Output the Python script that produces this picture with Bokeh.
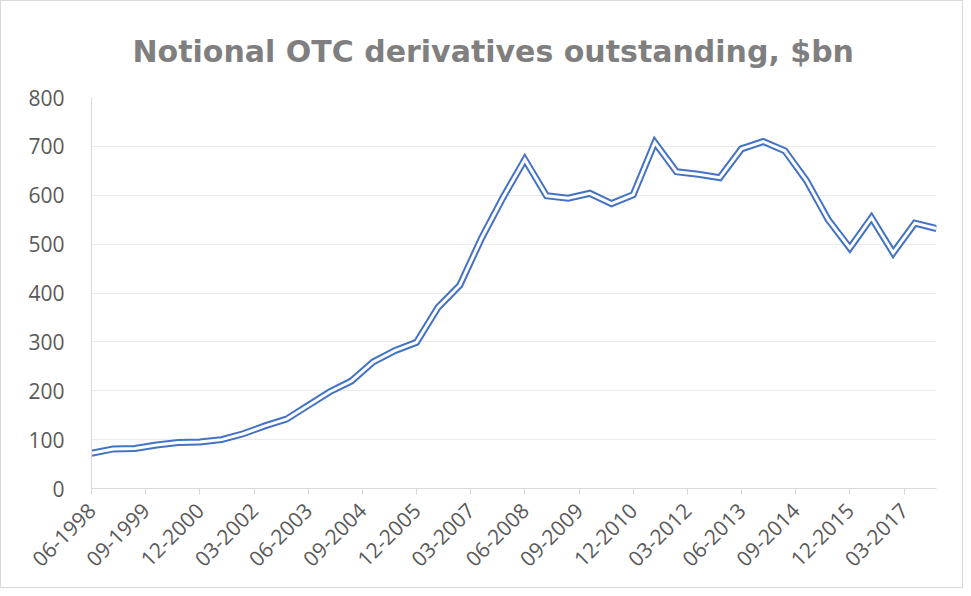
import math
from bokeh.plotting import figure
from bokeh.models import Range1d, FixedTicker
from bokeh.embed import file_html
from bokeh.resources import INLINE

# Semi-annual observations (mm-yyyy)
dates = [
    "06-1998", "12-1998", "06-1999", "12-1999", "06-2000", "12-2000", "06-2001", "12-2001",
    "06-2002", "12-2002", "06-2003", "12-2003", "06-2004", "12-2004", "06-2005", "12-2005",
    "06-2006", "12-2006", "06-2007", "12-2007", "06-2008", "12-2008", "06-2009", "12-2009",
    "06-2010", "12-2010", "06-2011", "12-2011", "06-2012", "12-2012", "06-2013", "12-2013",
    "06-2014", "12-2014", "06-2015", "12-2015", "06-2016", "12-2016", "06-2017", "12-2017",
]
values = [
    72, 81, 82, 89, 94, 95, 100, 112,
    128, 142, 170, 198, 220, 259, 282, 299,
    371, 416, 512, 596, 673, 599, 594, 604,
    583, 601, 708, 648, 643, 636, 695, 710,
    691, 630, 550, 492, 554, 482, 543, 532,
]
tick_labels = [
    "06-1998", "09-1999", "12-2000", "03-2002", "06-2003", "09-2004", "12-2005", "03-2007",
    "06-2008", "09-2009", "12-2010", "03-2012", "06-2013", "09-2014", "12-2015", "03-2017",
]
title_text = "Notional OTC derivatives outstanding, $bn"


def month_index(s):
    m, y = s.split("-")
    return (int(y) - 1998) * 12 + int(m) - 6


xs = [month_index(d) for d in dates]
ticks = [month_index(t) for t in tick_labels]

FONT = "Open Sans"
LABEL_COLOR = "#595959"
AXIS_COLOR = "#d9d9d9"

p = figure(
    width=963, height=588,
    output_backend="svg", toolbar_location=None,
    x_range=Range1d(0, xs[-1]), y_range=Range1d(0, 800),
    min_border_left=90, min_border_right=28, min_border_top=96, min_border_bottom=101,
    background_fill_color="white", border_fill_color="white",
)
p.styles = {"border": "1px solid #d9d9d9"}
p.outline_line_color = None

p.title.text = title_text
p.title.align = "left"
p.title.offset = 41
p.title.text_font = "DejaVu Sans"
p.title.text_font_size = "30px"
p.title.text_font_style = "bold"
p.title.text_color = "#7f7f7f"
p.title.standoff = 58

# x axis
p.xaxis.ticker = FixedTicker(ticks=ticks)
p.xaxis.major_label_overrides = {t: lab for t, lab in zip(ticks, tick_labels)}
p.xaxis.major_label_orientation = math.pi / 4
p.xaxis.axis_line_color = AXIS_COLOR
p.xaxis.major_tick_line_color = AXIS_COLOR
p.xaxis.major_tick_out = 6
p.xaxis.major_tick_in = 0
p.xaxis.minor_tick_line_color = None
p.xaxis.major_label_text_font = FONT
p.xaxis.major_label_text_font_size = "21px"
p.xaxis.major_label_text_color = LABEL_COLOR
p.xaxis.major_label_standoff = 12

# y axis
p.yaxis.ticker = FixedTicker(ticks=list(range(0, 801, 100)))
p.yaxis.axis_line_color = AXIS_COLOR
p.yaxis.major_tick_line_color = None
p.yaxis.minor_tick_line_color = None
p.yaxis.major_label_text_font = FONT
p.yaxis.major_label_text_font_size = "21px"
p.yaxis.major_label_text_color = LABEL_COLOR
p.yaxis.major_label_standoff = 21

p.xgrid.visible = False
p.ygrid.grid_line_color = "#ebebeb"
p.ygrid.grid_line_width = 1

# double (compound) line
p.line(xs, values, line_color="#4472C4", line_width=7, line_join="miter")
p.line(xs, values, line_color="white", line_width=3, line_join="miter")

open("out.html", "w").write(file_html(p, INLINE))
